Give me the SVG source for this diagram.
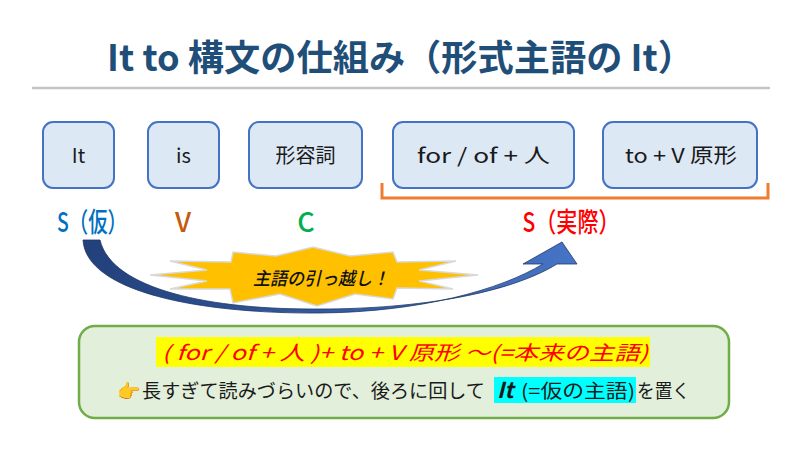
<svg xmlns="http://www.w3.org/2000/svg" width="800" height="450" viewBox="0 0 800 450">
<defs>
<style>
text{font-family:"Noto Sans CJK JP","Noto Sans",sans-serif;}
.box{fill:#dde8f5;stroke:#4472c4;stroke-width:2;}
.bt{font-size:20px;fill:#1a1a1a;text-anchor:middle;}
.lab{font-size:27px;text-anchor:middle;font-weight:500;}
</style>
<linearGradient id="ag" x1="0" y1="0" x2="1" y2="0">
<stop offset="0" stop-color="#22407a"/>
<stop offset="1" stop-color="#4674c6"/>
</linearGradient>
</defs>
<rect width="800" height="450" fill="#ffffff"/>
<g id="title">
<text x="107" y="71" font-size="36" font-weight="bold" fill="#1f4e79" textLength="587" lengthAdjust="spacingAndGlyphs">It to  構文の仕組み（形式主語の It）</text>
<line x1="32" y1="88" x2="770" y2="88" stroke="#c4c4c4" stroke-width="2.5"/>
</g>
<g id="node-it"><rect class="box" x="43" y="122" width="71" height="66" rx="10"/><text class="bt" x="78.5" y="163">It</text></g>
<g id="node-is"><rect class="box" x="148" y="122" width="71" height="66" rx="10"/><text class="bt" x="183.5" y="163">is</text></g>
<g id="node-adj"><rect class="box" x="249" y="122" width="113" height="66" rx="10"/><text class="bt" x="305.5" y="163">形容詞</text></g>
<g id="node-forof"><rect class="box" x="393" y="122" width="181" height="66" rx="10"/><text class="bt" x="483.5" y="163" textLength="133" lengthAdjust="spacingAndGlyphs">for / of +  人</text></g>
<g id="node-tov"><rect class="box" x="603" y="122" width="154" height="66" rx="10"/><text class="bt" x="681" y="163" textLength="112" lengthAdjust="spacingAndGlyphs">to + V 原形</text></g>
<g id="labels">
<text class="lab" x="92" y="232" fill="#0070c0" textLength="70" lengthAdjust="spacingAndGlyphs">S（仮）</text>
<text class="lab" x="183" y="232" fill="#c55a11">V</text>
<text class="lab" x="306" y="232" fill="#00b050">C</text>
<text class="lab" x="571" y="232" fill="#ff0000" textLength="97" lengthAdjust="spacingAndGlyphs">S（実際）</text>
</g>
<g id="connectors">
<path d="M382,183 V198 H768 V183" fill="none" stroke="#ed7d31" stroke-width="3"/>
<path d="M83,240 C86,292 200,314 320,313 C420,312 500,290 543,264 L523,264 L562,242 L577,264 L557,264 C510,293 420,309 320,309 C212,310 112,290 100,240 Z" fill="url(#ag)" stroke="#1f3864" stroke-width="0.8"/>
</g>
<g id="burst">
<path d="M150,275 L207,270 L170,261 L231,262 L233,252 L276,256 L313,247 L350,256 L393,252 L397,262 L456,261 L419,270 L478,275 L419,281 L453,289 L397,288 L393,299 L355,294 L317,306 L280,294 L233,303 L230,289 L170,289 L207,281 Z" fill="#ffc000" stroke="#d9d9d9" stroke-width="1.5"/>
<text x="321" y="285" font-size="18" font-style="italic" font-weight="500" text-anchor="middle" fill="#111" textLength="136" lengthAdjust="spacingAndGlyphs">主語の引っ越し！</text>
</g>
<g id="note">
<rect x="79" y="326" width="650" height="92" rx="16" fill="#e2efda" stroke="#70ad47" stroke-width="2.5"/>
<rect x="156" y="337" width="494" height="30" fill="#ffff00"/>
<text x="162" y="360" font-size="20" font-style="italic" fill="#ff0000" textLength="486" lengthAdjust="spacingAndGlyphs">( for / of + 人 )+ to + V 原形 ～(=本来の主語)</text>
<rect x="494" y="377" width="142" height="26" fill="#00ffff"/>
<text x="117" y="398" font-size="19" fill="#1a1a1a">👉</text>
<text x="142" y="398" font-size="19" fill="#1a1a1a" textLength="343" lengthAdjust="spacingAndGlyphs">長すぎて読みづらいので、後ろに回して</text>
<text x="497" y="398" font-size="22" fill="#1a1a1a" font-style="italic" font-weight="bold" font-family="Liberation Serif, serif">It</text>
<text x="521" y="398" font-size="19" fill="#1a1a1a" textLength="114" lengthAdjust="spacingAndGlyphs">(=仮の主語)</text>
<text x="637" y="398" font-size="19" fill="#1a1a1a" textLength="53" lengthAdjust="spacingAndGlyphs">を置く</text>
</g>
</svg>
